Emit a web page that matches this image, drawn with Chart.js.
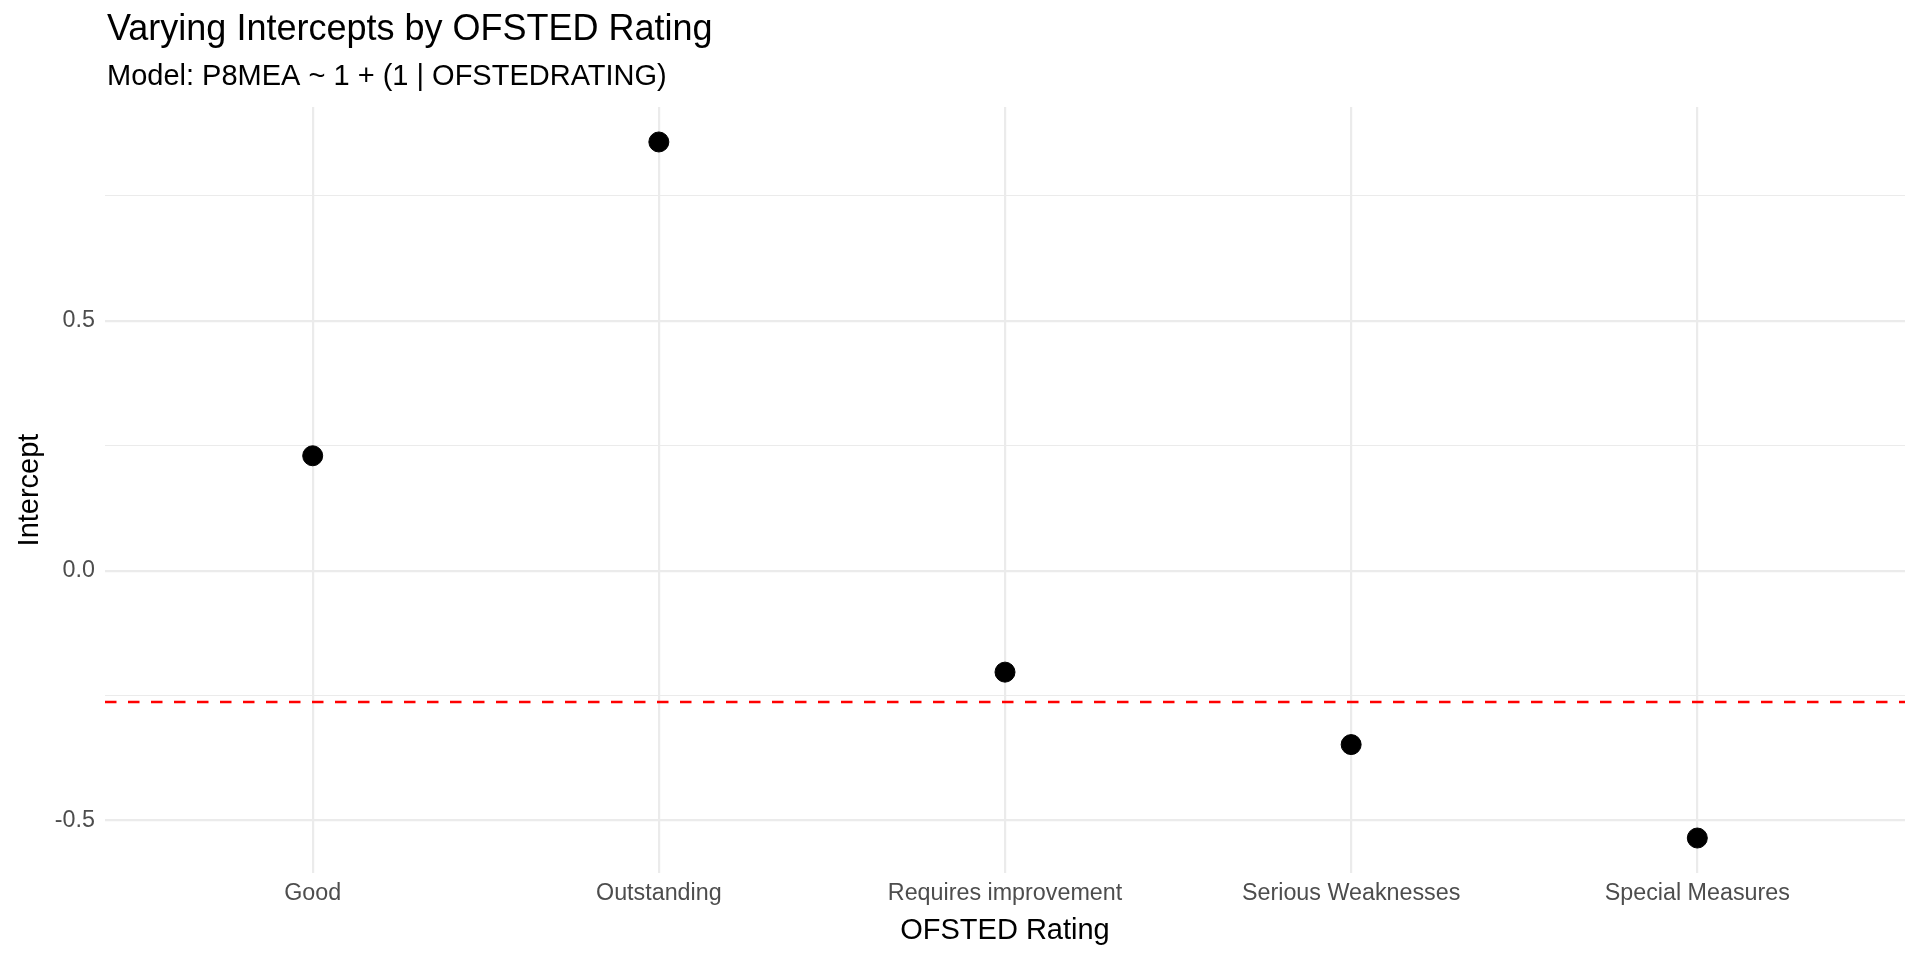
<!DOCTYPE html>
<html>
<head>
<meta charset="utf-8">
<title>Varying Intercepts by OFSTED Rating</title>
<script src="https://cdn.jsdelivr.net/npm/chart.js@4.4.1/dist/chart.umd.min.js"></script>
<style>
  html, body { margin: 0; padding: 0; background: #fff; }
  #wrap { width: 1920px; height: 960px; }
</style>
</head>
<body>
<div id="wrap"><canvas id="chart" width="1920" height="960"></canvas></div>
<script>
const ratings = ["Good", "Outstanding", "Requires improvement", "Serious Weaknesses", "Special Measures"];
const intercepts = [0.230, 0.858, -0.203, -0.348, -0.535];
const overallIntercept = -0.263;
const yTicks = [-0.5, -0.25, 0, 0.25, 0.5, 0.75];
const yMajor = [-0.5, 0, 0.5];

const FONT = "'Liberation Sans', Arial, sans-serif";
const GRID = "#ebebeb";

// titles drawn against the panel like ggplot does
const labelsPlugin = {
  id: "ggLabels",
  afterDraw(chart) {
    const ctx = chart.ctx;
    const a = chart.chartArea;
    ctx.save();
    ctx.fillStyle = "#000";
    ctx.textAlign = "left";
    ctx.textBaseline = "alphabetic";
    ctx.font = "36px " + FONT;
    ctx.fillText("Varying Intercepts by OFSTED Rating", a.left + 2, 40);
    ctx.font = "29px " + FONT;
    ctx.fillText("Model: P8MEA ~ 1 + (1 | OFSTEDRATING)", a.left + 2, 85);

    ctx.font = "29px " + FONT;
    ctx.textAlign = "center";
    ctx.fillText("OFSTED Rating", (a.left + a.right) / 2, 939);

    ctx.translate(38, (a.top + a.bottom) / 2);
    ctx.rotate(-Math.PI / 2);
    ctx.fillText("Intercept", 0, 0);
    ctx.restore();
  }
};

const points = ratings.map((r, i) => ({ x: i, y: intercepts[i] }));
const xMin = -0.6, xMax = ratings.length - 1 + 0.6;

new Chart(document.getElementById("chart"), {
  type: "scatter",
  data: {
    datasets: [
      {
        type: "line",
        label: "Overall intercept",
        data: [{ x: xMin, y: overallIntercept }, { x: xMax, y: overallIntercept }],
        borderColor: "#ff0000",
        borderWidth: 2.5,
        borderDash: [11.5, 11.5],
        pointRadius: 0,
        fill: false
      },
      {
        label: "Intercept",
        data: points,
        backgroundColor: "#000",
        borderColor: "#000",
        pointRadius: 10,
        pointHoverRadius: 10
      }
    ]
  },
  options: {
    responsive: false,
    animation: false,
    layout: { padding: { top: 107, right: 15, bottom: 0, left: 0 } },
    plugins: {
      legend: { display: false },
      title: { display: false },
      tooltip: { enabled: false }
    },
    scales: {
      x: {
        type: "linear",
        min: xMin,
        max: xMax,
        border: { display: false },
        afterBuildTicks: s => { s.ticks = ratings.map((r, i) => ({ value: i })); },
        afterFit: s => { s.height = 87; },
        grid: { color: GRID, lineWidth: 2.2, drawTicks: false },
        ticks: {
          color: "#4d4d4d",
          font: { family: FONT, size: 23.3 },
          padding: 7,
          maxRotation: 0,
          autoSkip: false,
          callback: v => ratings[v]
        }
      },
      y: {
        min: -0.605,
        max: 0.928,
        border: { display: false },
        afterBuildTicks: s => { s.ticks = yTicks.map(v => ({ value: v })); },
        afterFit: s => { s.width = 105; },
        grid: {
          color: GRID,
          drawTicks: false,
          lineWidth: c => yMajor.includes(c.tick.value) ? 2.2 : 1.1
        },
        ticks: {
          color: "#4d4d4d",
          font: { family: FONT, size: 23.3 },
          padding: 10,
          autoSkip: false,
          callback: v => yMajor.includes(v) ? v.toFixed(1) : ""
        }
      }
    }
  },
  plugins: [labelsPlugin]
});
</script>
</body>
</html>
